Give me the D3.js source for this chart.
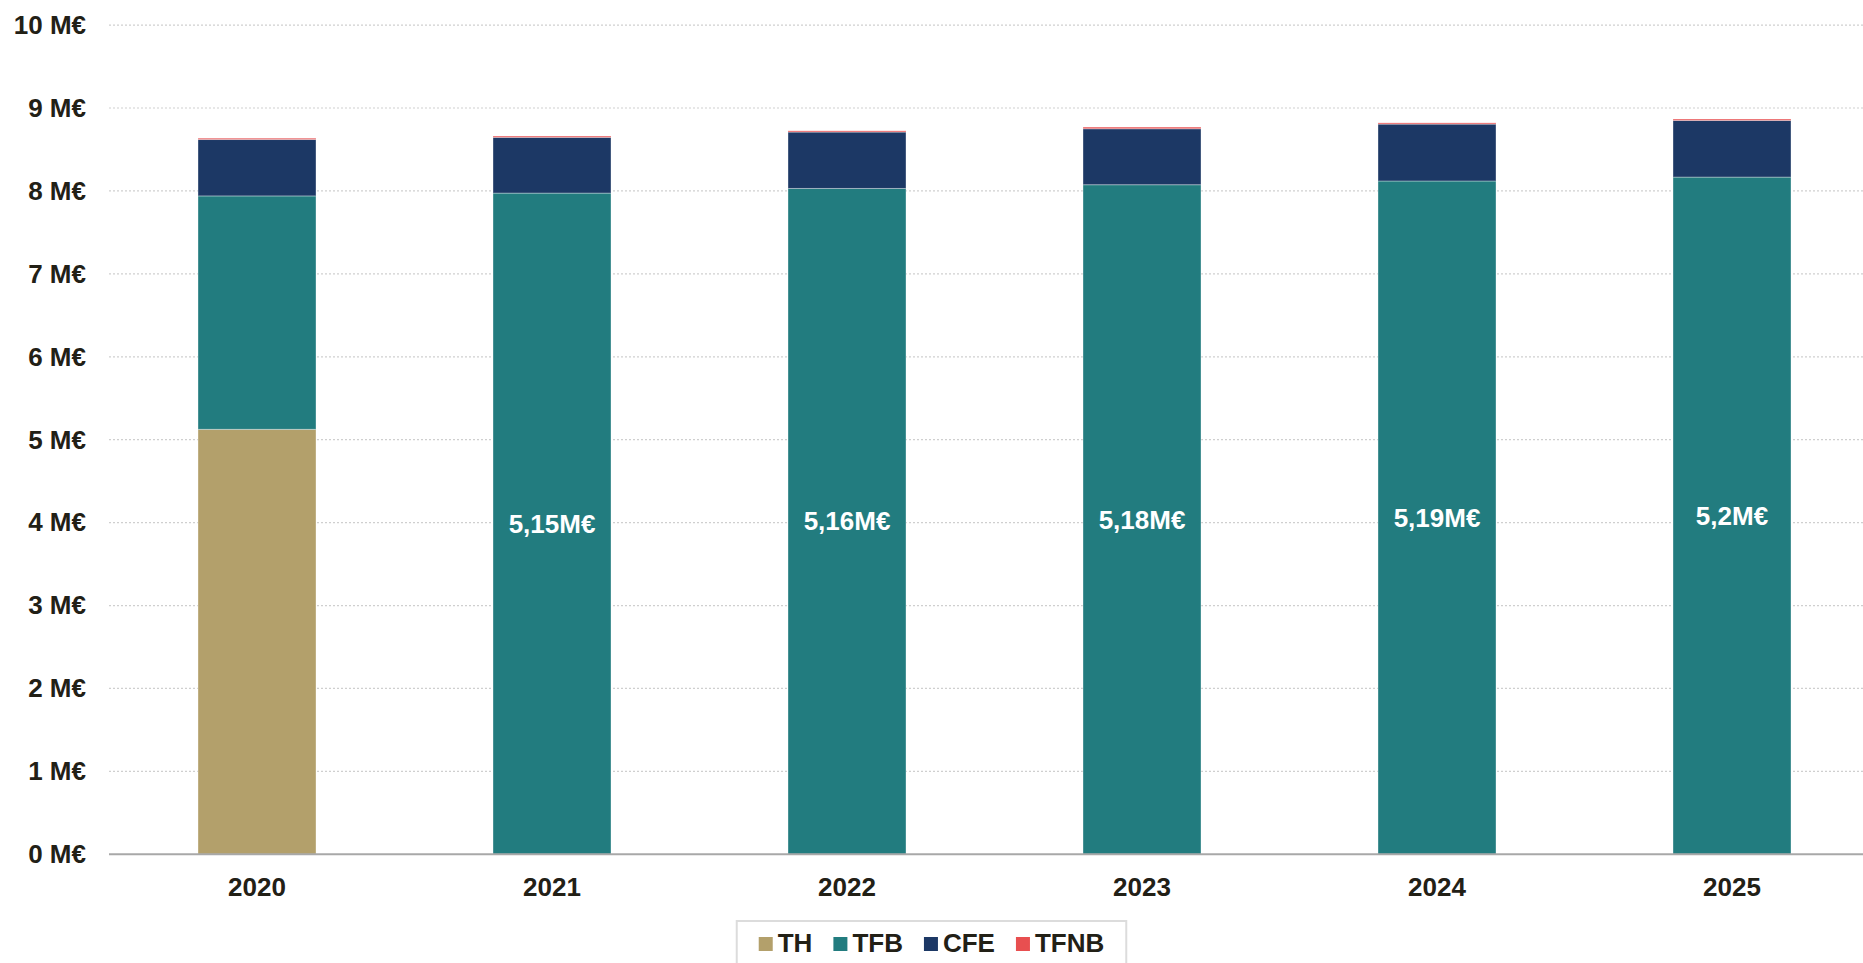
<!DOCTYPE html>
<html>
<head>
<meta charset="utf-8">
<script src="https://cdn.jsdelivr.net/npm/d3@7"></script>
<style>
  html, body { margin: 0; padding: 0; background: #fff; }
  svg { display: block; font-family: "Liberation Sans", Arial, Helvetica, sans-serif; }
</style>
</head>
<body>
<svg id="chart" width="1863" height="963"></svg>
<script>
// Tax revenue by component, in millions of euros
const years = ["2020", "2021", "2022", "2023", "2024", "2025"];
const seriesNames = ["TH", "TFB", "CFE", "TFNB"];
const thValues   = [5.125, 0, 0, 0, 0, 0];
const tfbValues  = [2.815, 7.974, 8.03, 8.075, 8.12, 8.167];
const cfeValues  = [0.68, 0.672, 0.68, 0.675, 0.686, 0.683];
const tfnbValues = [0.016, 0.016, 0.015, 0.02, 0.015, 0.017];
// Amount shown inside the TFB segment (former TH share)
const labelValues = [null, 5.15, 5.16, 5.18, 5.19, 5.2];
const yTicks = [0, 1, 2, 3, 4, 5, 6, 7, 8, 9, 10];
const colors = ["#b3a06b", "#227c7f", "#1c3865", "#e84f50"];

const rows = years.map((y, i) => ({
  year: y, TH: thValues[i], TFB: tfbValues[i], CFE: cfeValues[i], TFNB: tfnbValues[i], label: labelValues[i]
}));

const W = 1863;
const svg = d3.select("#chart");
const textColor = "#222016";

const x = d3.scaleBand().domain(years).range([109.5, 1879.5]).paddingInner(0.6).paddingOuter(0.3);
const y = d3.scaleLinear().domain([0, 10]).range([854.3, 25.1]);
const color = d3.scaleOrdinal().domain(seriesNames).range(colors);

// Grid lines
svg.append("g").selectAll("line").data(yTicks.filter(t => t > 0)).join("line")
  .attr("x1", 109).attr("x2", W)
  .attr("y1", d => y(d)).attr("y2", d => y(d))
  .attr("stroke", "#cfcfcf").attr("stroke-width", 1.2).attr("stroke-dasharray", "2,2");

// Y axis labels
const yAxis = svg.append("g").attr("transform", "translate(86,0)")
  .call(d3.axisLeft(y).tickValues(yTicks).tickSize(0).tickPadding(0).tickFormat(d => d + " M€"));
yAxis.select(".domain").remove();
yAxis.selectAll("text")
  .attr("fill", textColor).attr("font-size", 26).attr("font-weight", "bold")
  .attr("font-family", "'Liberation Sans', Arial, sans-serif");

// Stacked bars
const stack = d3.stack().keys(seriesNames);
const stacked = stack(rows);

svg.append("g").selectAll("g").data(stacked).join("g")
  .attr("fill", d => color(d.key))
  .selectAll("rect").data(d => d).join("rect")
  .attr("x", d => x(d.data.year))
  .attr("width", x.bandwidth())
  .attr("y", d => y(d[1]))
  .attr("height", d => Math.max(0, y(d[0]) - y(d[1])))
  .attr("stroke", "rgba(255,255,255,0.35)")
  .attr("stroke-width", 1);

// Baseline
svg.append("line")
  .attr("x1", 109).attr("x2", W)
  .attr("y1", y(0)).attr("y2", y(0))
  .attr("stroke", "#a8a8a8").attr("stroke-width", 2);

// Value labels centred in the TFB segment
const tfbLayer = stacked.find(s => s.key === "TFB");
const fmt = v => String(v).replace(".", ",") + "M€";
svg.append("g").selectAll("text").data(tfbLayer.filter(d => d.data.label != null)).join("text")
  .attr("x", d => x(d.data.year) + x.bandwidth() / 2)
  .attr("y", d => (y(d[0]) + y(d[1])) / 2)
  .attr("dy", "0.35em")
  .attr("text-anchor", "middle")
  .attr("fill", "#fff").attr("font-size", 26).attr("font-weight", "bold")
  .text(d => fmt(d.data.label));

// X axis labels
const xAxis = svg.append("g").attr("transform", `translate(0,${y(0)})`)
  .call(d3.axisBottom(x).tickSize(0).tickPadding(23));
xAxis.select(".domain").remove();
xAxis.selectAll("text")
  .attr("fill", textColor).attr("font-size", 26).attr("font-weight", "bold")
  .attr("font-family", "'Liberation Sans', Arial, sans-serif");

// Legend
const legend = svg.append("g");
const legendBox = legend.append("rect")
  .attr("fill", "#fff").attr("stroke", "#dcdcdc").attr("stroke-width", 2);
const items = legend.append("g");
let cx = 0;
seriesNames.forEach((name, i) => {
  const g = items.append("g").attr("transform", `translate(${cx},0)`);
  g.append("rect").attr("x", 0).attr("y", -15).attr("width", 14).attr("height", 14).attr("fill", colors[i]);
  const t = g.append("text").attr("x", 19).attr("y", 0)
    .attr("fill", textColor).attr("font-size", 26).attr("font-weight", "bold").text(name);
  cx += 19 + t.node().getComputedTextLength() + 21;
});
const itemsW = cx - 21;
const legendX = W / 2 - itemsW / 2;
items.attr("transform", `translate(${legendX},952)`);
legendBox.attr("x", legendX - 22).attr("y", 921).attr("width", itemsW + 44).attr("height", 60);
</script>
</body>
</html>
